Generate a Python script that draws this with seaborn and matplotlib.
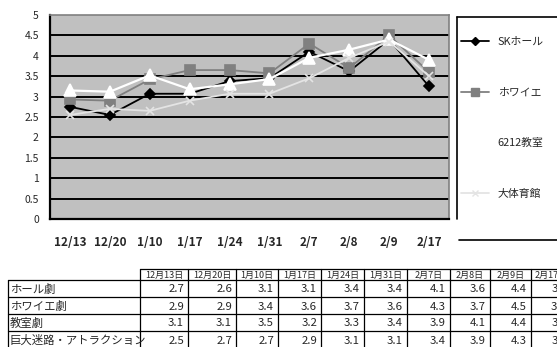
import matplotlib
matplotlib.use("Agg")
import matplotlib.pyplot as plt
import seaborn as sns
import pandas as pd
from matplotlib.lines import Line2D

# data
dates = ["12/13", "12/20", "1/10", "1/17", "1/24", "1/31", "2/7", "2/8", "2/9", "2/17"]
sk_hall = [2.75, 2.55, 3.07, 3.07, 3.38, 3.45, 4.10, 3.62, 4.40, 3.25]
foyer = [2.93, 2.90, 3.42, 3.65, 3.65, 3.57, 4.30, 3.70, 4.50, 3.60]
room_6212 = [3.15, 3.12, 3.52, 3.18, 3.30, 3.43, 3.95, 4.15, 4.40, 3.90]
big_gym = [2.55, 2.70, 2.65, 2.90, 3.07, 3.07, 3.45, 3.95, 4.35, 3.50]
series_names = ["SKホール", "ホワイエ", "6212教室", "大体育館"]

# table under the chart
table_cols = ["12月13日", "12月20日", "1月10日", "1月17日", "1月24日", "1月31日",
              "2月7日", "2月8日", "2月9日", "2月17日"]
table_rows = ["ホール劇", "ホワイエ劇", "教室劇", "巨大迷路・アトラクション"]
row_hall = [2.7, 2.6, 3.1, 3.1, 3.4, 3.4, 4.1, 3.6, 4.4, 3.2]
row_foyer = [2.9, 2.9, 3.4, 3.6, 3.7, 3.6, 4.3, 3.7, 4.5, 3.6]
row_room = [3.1, 3.1, 3.5, 3.2, 3.3, 3.4, 3.9, 4.1, 4.4, 3.9]
row_maze = [2.5, 2.7, 2.7, 2.9, 3.1, 3.1, 3.4, 3.9, 4.3, 3.5]
table_vals = [row_hall, row_foyer, row_room, row_maze]

sns.set_theme(style="white")
plt.rcParams["font.family"] = ["Noto Sans CJK JP", "DejaVu Sans"]

W, H = 557, 347
fig = plt.figure(figsize=(W / 100, H / 100), dpi=100)

def fx(px):
    return px / W

def fy(py):
    return 1 - py / H

ax = fig.add_axes([fx(50), fy(219), fx(449) - fx(50), fy(15) - fy(219)])
ax.set_facecolor("#C0C0C0")

df = pd.DataFrame({
    "x": list(range(len(dates))) * 4,
    "value": sk_hall + foyer + room_6212 + big_gym,
    "series": [n for n in series_names for _ in dates],
})

colors = {"SKホール": "black", "ホワイエ": "#808080", "6212教室": "white", "大体育館": "#E4E4E4"}
markers = {"SKホール": "D", "ホワイエ": "s", "6212教室": "^", "大体育館": "x"}
msizes = {"SKホール": 5, "ホワイエ": 7, "6212教室": 8, "大体育館": 6}
lwidths = {"SKホール": 1.3, "ホワイエ": 1.3, "6212教室": 1.6, "大体育館": 1.3}

for name in series_names:
    sub = df[df["series"] == name]
    sns.lineplot(data=sub, x="x", y="value", ax=ax, color=colors[name],
                 marker=markers[name], markersize=msizes[name],
                 markeredgecolor=colors[name], markeredgewidth=1.2,
                 linewidth=lwidths[name], legend=False, zorder=3)

ax.set_xlim(-0.5, len(dates) - 0.5)
ax.set_ylim(0, 5)
ax.set_yticks([i * 0.5 for i in range(11)])
ax.set_yticklabels(["0", "0.5", "1", "1.5", "2", "2.5", "3", "3.5", "4", "4.5", "5"], fontsize=7.5)
ax.set_xticks(range(len(dates)))
ax.set_xticklabels(dates, fontsize=8.5, fontweight="bold")
ax.set_xticks([i + 0.5 for i in range(-1, len(dates))], minor=True)
ax.tick_params(axis="x", which="major", length=0, pad=12)
ax.tick_params(axis="x", which="minor", length=4, width=1, color="black", direction="out")
ax.tick_params(axis="y", length=0, pad=8)
ax.set_xlabel("")
ax.set_ylabel("")
for y in [i * 0.5 for i in range(1, 10)]:
    ax.axhline(y, color="black", linewidth=1.4, zorder=1)
for s in ["left", "bottom"]:
    ax.spines[s].set_color("black")
    ax.spines[s].set_linewidth(1.6)
for s in ["top", "right"]:
    ax.spines[s].set_color("#808080")
    ax.spines[s].set_linewidth(1.2)

# legend box and entries
over = fig.add_axes([0, 0, 1, 1], facecolor="none")
over.set_xlim(0, W)
over.set_ylim(H, 0)
over.axis("off")
over.plot([457, 457], [17, 219], color="black", lw=1.2)
over.plot([457, W], [17, 17], color="black", lw=1.2)
over.plot([459, W], [240, 240], color="black", lw=1.2)

handles = [Line2D([], [], color=colors[n], marker=markers[n], markersize=msizes[n] - 1,
                  markeredgecolor=colors[n], linewidth=lwidths[n]) for n in series_names]
fig.legend(handles, series_names, loc="upper left", frameon=False,
           bbox_to_anchor=(fx(461), fy(37)), borderaxespad=0, borderpad=0,
           handlelength=2.6, handletextpad=0.8, labelspacing=3.75, fontsize=7.8)

# data table
col_edges = [140, 188, 236, 278, 321, 364, 407, 450, 490, 531, 571]
left_edge = 8
header_top, header_bot = 269, 280
row_h = 17
lw = 0.9
over.plot([col_edges[0], W], [header_top, header_top], color="black", lw=lw)
for i, lab in enumerate(table_cols):
    x0, x1 = col_edges[i], col_edges[i + 1]
    over.text((x0 + x1) / 2, (header_top + header_bot) / 2 + 0.5, lab,
              ha="center", va="center", fontsize=6.5)
for xe in col_edges[:-1]:
    over.plot([xe, xe], [header_top, H + 5], color="black", lw=lw)
for r, lab in enumerate(table_rows):
    top = header_bot + r * row_h
    over.plot([left_edge, W], [top, top], color="black", lw=lw)
    over.text(left_edge + 2, top + row_h / 2 + 1, lab, ha="left", va="center", fontsize=8.2)
    for i, v in enumerate(table_vals[r]):
        over.text(col_edges[i + 1] - 4, top + row_h / 2 + 1, f"{v:.1f}",
                  ha="right", va="center", fontsize=8.2)
over.plot([left_edge, left_edge], [header_bot, H + 5], color="black", lw=lw)

fig.savefig("out.png", dpi=100)
